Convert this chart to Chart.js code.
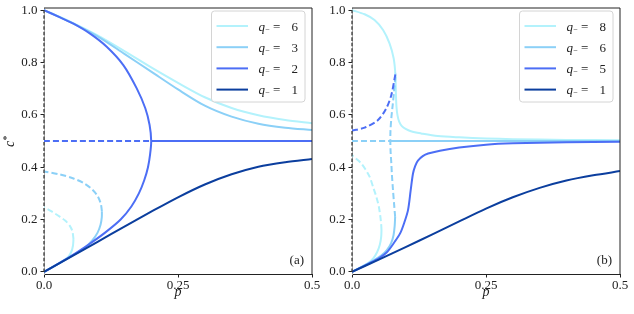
<!DOCTYPE html>
<html>
<head>
<meta charset="utf-8">
<script src="https://cdn.jsdelivr.net/npm/chart.js@4.4.1/dist/chart.umd.min.js"></script>
<style>
  html, body { margin: 0; padding: 0; background: #fff; }
  #wrap { position: relative; width: 634px; height: 314px; overflow: hidden; }
  canvas { position: absolute; top: 0; }
  #ca { left: 0; }
  #cb { left: 314px; }
</style>
</head>
<body>
<div id="wrap">
  <canvas id="ca" width="330" height="314"></canvas>
  <canvas id="cb" width="320" height="314"></canvas>
</div>
<script>
// ticks
var pTicks = [0, 0.25, 0.5];
var pTickLabels = ['0.0', '0.25', '0.5'];
var cTicks = [0, 0.2, 0.4, 0.6, 0.8, 1.0];
var cTickLabels = ['0.0', '0.2', '0.4', '0.6', '0.8', '1.0'];

var colLight = '#b3f2fc', colSky = '#8bd0f7', colMid = '#4c6ef5', colDark = '#0b3e9e';

// legend entries (q_-) per panel
var legendA = [6, 3, 2, 1];
var legendB = [8, 6, 5, 1];

var pGrid = [0, 0.05, 0.1, 0.15, 0.2, 0.25, 0.3, 0.35, 0.4, 0.45, 0.5];

// ---- panel (a) ----
var aQ6upC = [1.0, 0.955, 0.903, 0.843, 0.781, 0.722, 0.667, 0.626, 0.598, 0.58, 0.568];
var aQ3upC = [1.0, 0.953, 0.9, 0.833, 0.765, 0.697, 0.635, 0.593, 0.566, 0.551, 0.542];
var aQ1C = [0, 0.057, 0.115, 0.173, 0.23, 0.285, 0.334, 0.373, 0.402, 0.419, 0.431];

var aQ2P = [0, 0.03, 0.055, 0.086, 0.117, 0.148, 0.173, 0.189, 0.197, 0.2, 0.198, 0.194, 0.187, 0.177, 0.163, 0.143, 0.114, 0.08, 0.042, 0];
var aQ2C = [1, 0.972, 0.948, 0.91, 0.86, 0.79, 0.701, 0.625, 0.561, 0.5, 0.45, 0.4, 0.35, 0.3, 0.25, 0.2, 0.15, 0.1, 0.05, 0];
var aQ2midDashP = [0, 0.2], aQ2midDashC = [0.5, 0.5];
var aQ2midP = [0.2, 0.5], aQ2midC = [0.5, 0.5];

var aQ3loP = [0, 0.03, 0.055, 0.075, 0.09, 0.1, 0.1055, 0.1078, 0.108];
var aQ3loC = [0, 0.035, 0.065, 0.09, 0.12, 0.15, 0.18, 0.208, 0.232];
var aQ3dashP = [0.108, 0.106, 0.1, 0.09, 0.075, 0.055, 0.03, 0];
var aQ3dashC = [0.232, 0.26, 0.29, 0.315, 0.338, 0.357, 0.372, 0.384];

var aQ6loP = [0, 0.02, 0.035, 0.045, 0.051, 0.054, 0.055];
var aQ6loC = [0, 0.023, 0.041, 0.057, 0.077, 0.1, 0.125];
var aQ6dashP = [0.055, 0.053, 0.0485, 0.04, 0.03, 0.015, 0];
var aQ6dashC = [0.125, 0.155, 0.175, 0.195, 0.21, 0.23, 0.247];

var axisP = [0, 0], axisC = [0, 1];

// ---- panel (b) ----
var bQ8upP = [0, 0.0236, 0.042, 0.058, 0.07, 0.0777, 0.081, 0.082, 0.083, 0.085, 0.088, 0.093, 0.1, 0.11, 0.129, 0.16, 0.2, 0.25, 0.3, 0.4, 0.5];
var bQ8upC = [1, 0.984, 0.962, 0.924, 0.873, 0.816, 0.752, 0.676, 0.63, 0.597, 0.574, 0.557, 0.546, 0.537, 0.529, 0.519, 0.514, 0.51, 0.507, 0.504, 0.503];
var bQ8loP = [0, 0.015, 0.03, 0.04, 0.047, 0.052, 0.0545, 0.055];
var bQ8loC = [0, 0.016, 0.034, 0.053, 0.076, 0.105, 0.135, 0.16];
var bQ8dashP = [0.055, 0.0545, 0.053, 0.05, 0.0454, 0.04, 0.033, 0.025, 0.0174, 0.008, 0];
var bQ8dashC = [0.16, 0.18, 0.21, 0.25, 0.287, 0.32, 0.363, 0.392, 0.414, 0.432, 0.446];

var bQ6loP = [0, 0.02, 0.04, 0.055, 0.065, 0.073, 0.0775, 0.0796, 0.0805];
var bQ6loC = [0, 0.021, 0.044, 0.063, 0.083, 0.11, 0.14, 0.175, 0.21];
var bQ6dashP = [0.0805, 0.0785, 0.0765, 0.0745, 0.0734, 0.072, 0.0715, 0.0718, 0.0735, 0.0759, 0.0785, 0.0808, 0.0815];
var bQ6dashC = [0.21, 0.26, 0.312, 0.37, 0.414, 0.46, 0.5, 0.54, 0.59, 0.637, 0.69, 0.74, 0.76];
var bQ6midDashP = [0, 0.0715], bQ6midDashC = [0.5, 0.5];
var bQ6midP = [0.0715, 0.5], bQ6midC = [0.5, 0.5];

var bQ5dashP = [0, 0.0236, 0.0485, 0.064, 0.0734, 0.0796, 0.081];
var bQ5dashC = [0.54, 0.551, 0.58, 0.625, 0.676, 0.74, 0.755];
var bQ5P = [0, 0.03, 0.05, 0.065, 0.08, 0.09, 0.097, 0.1045, 0.1095, 0.1138, 0.118, 0.123, 0.132, 0.142, 0.164, 0.2, 0.25, 0.3, 0.4, 0.5];
var bQ5C = [0, 0.031, 0.052, 0.075, 0.116, 0.148, 0.185, 0.236, 0.312, 0.376, 0.405, 0.425, 0.442, 0.452, 0.463, 0.475, 0.486, 0.491, 0.495, 0.497];

var bQ1C = [0, 0.047, 0.095, 0.143, 0.193, 0.242, 0.285, 0.321, 0.349, 0.369, 0.385];

var serif = '"Liberation Serif", "DejaVu Serif", serif';

function curve(ps, cs, color, dashed, order) {
  return {
    data: ps.map(function (p, i) { return { x: p, y: cs[i] }; }),
    borderColor: color,
    borderWidth: 2,
    borderDash: dashed ? [6, 3] : [],
    pointRadius: 0,
    showLine: true,
    tension: 0.3,
    fill: false,
    order: order
  };
}

function axisLine() {
  var d = curve(axisP, axisC, '#3a3a3a', true, 0);
  d.borderWidth = 1.3;
  d.borderDash = [3.5, 2];
  d.clip = 4;
  return d;
}

// no label overhang padding, so the plot box sits where we put it
function noPad(s) {
  s.paddingTop = 0; s.paddingBottom = 0; s.paddingLeft = 0; s.paddingRight = 0;
}

// frame, legend, labels
var decor = {
  id: 'decor',
  afterDatasetsDraw: function (chart, args, o) {
    var ctx = chart.ctx, a = chart.chartArea;
    ctx.save();
    ctx.strokeStyle = '#222';
    ctx.lineWidth = 1;
    ctx.beginPath();
    ctx.moveTo(a.left, a.top);
    ctx.lineTo(a.right, a.top);
    ctx.lineTo(a.right, a.bottom);
    ctx.stroke();

    // legend
    var bw = 93.5, bh = 91;
    var bx = a.right - 7 - bw, by = a.top + 3;
    ctx.beginPath();
    ctx.roundRect(bx, by, bw, bh, 3);
    ctx.fillStyle = 'rgba(255,255,255,0.85)';
    ctx.fill();
    ctx.strokeStyle = '#d4d4d4';
    ctx.stroke();
    o.labels.forEach(function (q, i) {
      var y = by + 15 + i * 21.2;
      ctx.strokeStyle = o.colors[i];
      ctx.lineWidth = 2;
      ctx.beginPath();
      ctx.moveTo(bx + 5, y);
      ctx.lineTo(bx + 36.5, y);
      ctx.stroke();
      var tx = bx + 47;
      ctx.fillStyle = '#222';
      ctx.textAlign = 'left';
      ctx.textBaseline = 'alphabetic';
      ctx.font = 'italic 13px ' + serif;
      ctx.fillText('q', tx, y + 4.5);
      var w = ctx.measureText('q').width;
      ctx.font = '8px ' + serif;
      ctx.fillText('\u2212', tx + w + 0.3, y + 5.5);
      ctx.font = '13px ' + serif;
      ctx.fillText('=', tx + 14.5, y + 4.5);
      ctx.fillText(String(q), tx + 33, y + 4.5);
    });

    // panel tag
    ctx.fillStyle = '#222';
    ctx.font = '13px ' + serif;
    ctx.textAlign = 'right';
    ctx.fillText(o.tag, a.right - 8, a.bottom - 10.5);

    // x title
    ctx.font = 'italic 14px ' + serif;
    ctx.textAlign = 'center';
    ctx.fillText('p', (a.left + a.right) / 2, 296);

    // y title
    if (o.yTitle) {
      ctx.translate(13.5, 147);
      ctx.rotate(-Math.PI / 2);
      ctx.textAlign = 'left';
      ctx.font = 'italic 14px ' + serif;
      ctx.fillText('c', 0, 0);
      var cw = ctx.measureText('c').width;
      ctx.font = '10px ' + serif;
      ctx.fillText('*', cw + 0.3, -4);
    }
    ctx.restore();
  }
};

function makeChart(id, datasets, yWidth, padRight, opts) {
  return new Chart(document.getElementById(id), {
    type: 'scatter',
    data: { datasets: datasets },
    plugins: [decor],
    options: {
      responsive: false,
      animation: false,
      devicePixelRatio: 1,
      events: [],
      layout: { padding: { left: 0, right: padRight, top: 8, bottom: 0 } },
      plugins: { legend: { display: false }, tooltip: { enabled: false }, decor: opts },
      scales: {
        x: {
          type: 'linear', min: 0, max: 0.5,
          afterBuildTicks: function (s) { s.ticks = pTicks.map(function (v) { return { value: v }; }); },
          afterFit: function (s) { s.height = 40; noPad(s); },
          ticks: {
            callback: function (v, i) { return pTickLabels[i]; },
            font: { family: serif, size: 13 }, color: '#222', padding: 0,
            maxRotation: 0, autoSkip: false
          },
          grid: { display: true, drawOnChartArea: false, drawTicks: true, tickLength: 3.5, color: '#222' },
          border: { display: true, color: '#222', width: 1 }
        },
        y: {
          type: 'linear', min: -0.008, max: 1.008,
          afterBuildTicks: function (s) { s.ticks = cTicks.map(function (v) { return { value: v }; }); },
          afterFit: function (s) { s.width = yWidth; noPad(s); },
          ticks: {
            callback: function (v, i) { return cTickLabels[i]; },
            font: { family: serif, size: 13 }, color: '#222', padding: 3, autoSkip: false
          },
          grid: { display: true, drawOnChartArea: false, drawTicks: true, tickLength: 3.5, color: '#222' },
          border: { display: true, color: '#aaa', width: 1 }
        }
      }
    }
  });
}

var dsA = [
  axisLine(),
  curve(pGrid, aQ1C, colDark, false, 1),
  curve(aQ2P, aQ2C, colMid, false, 2),
  curve(aQ2midP, aQ2midC, colMid, false, 2),
  curve(aQ2midDashP, aQ2midDashC, colMid, true, 2),
  curve(pGrid, aQ3upC, colSky, false, 3),
  curve(aQ3loP, aQ3loC, colSky, false, 3),
  curve(aQ3dashP, aQ3dashC, colSky, true, 3),
  curve(pGrid, aQ6upC, colLight, false, 4),
  curve(aQ6loP, aQ6loC, colLight, false, 4),
  curve(aQ6dashP, aQ6dashC, colLight, true, 4)
];

var dsB = [
  axisLine(),
  curve(pGrid, bQ1C, colDark, false, 1),
  curve(bQ5P, bQ5C, colMid, false, 2),
  curve(bQ5dashP, bQ5dashC, colMid, true, 2),
  curve(bQ6loP, bQ6loC, colSky, false, 3),
  curve(bQ6dashP, bQ6dashC, colSky, true, 3),
  curve(bQ6midP, bQ6midC, colSky, false, 3),
  curve(bQ6midDashP, bQ6midDashC, colSky, true, 3),
  curve(bQ8upP, bQ8upC, colLight, false, 4),
  curve(bQ8loP, bQ8loC, colLight, false, 4),
  curve(bQ8dashP, bQ8dashC, colLight, true, 4)
];

makeChart('ca', dsA, 44, 18, { labels: legendA, colors: [colLight, colSky, colMid, colDark], tag: '(a)', yTitle: true });
makeChart('cb', dsB, 38, 14, { labels: legendB, colors: [colLight, colSky, colMid, colDark], tag: '(b)', yTitle: false });
</script>
</body>
</html>
